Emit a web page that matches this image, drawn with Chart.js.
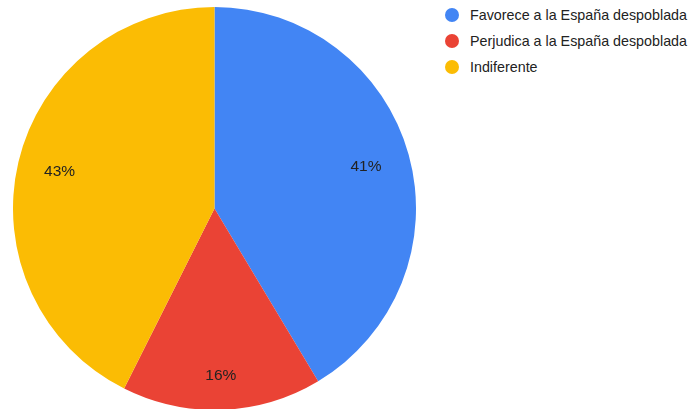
<!DOCTYPE html>
<html>
<head>
<meta charset="utf-8">
<script src="https://cdn.jsdelivr.net/npm/chart.js@4/dist/chart.umd.min.js"></script>
<style>
    html, body { margin: 0; padding: 0; background: #ffffff; overflow: hidden; }
    body { width: 691px; height: 409px; position: relative; font-family: Arial, "Liberation Sans", sans-serif; }
    #pieBox { position: absolute; left: 13px; top: 7px; width: 403px; height: 403px; }
    #legend { position: absolute; left: 445px; top: 5px; }
    .item { position: relative; height: 26px; line-height: 20px; font-size: 14.3px; color: #222222; padding-left: 25px; white-space: nowrap; }
    .dot { position: absolute; left: 0; top: 3px; width: 14px; height: 14px; border-radius: 50%; }
</style>
</head>
<body>
<div id="pieBox"><canvas id="pieChart"></canvas></div>
<div id="legend"></div>
<script>
const labels = ['Favorece a la España despoblada', 'Perjudica a la España despoblada', 'Indiferente'];
const values = [41.4, 16.0, 42.6];
const colors = ['#4285f4', '#ea4335', '#fbbc04'];

// percentage text inside each slice
const sliceLabels = {
    id: 'sliceLabels',
    afterDatasetsDraw(chart) {
        const ctx = chart.ctx;
        const meta = chart.getDatasetMeta(0);
        const total = values.reduce((a, b) => a + b, 0);
        const ratios = [0.78, 0.83, 0.79]; // how far out the label sits
        ctx.save();
        ctx.font = '15.5px Arial, "Liberation Sans", sans-serif';
        ctx.fillStyle = '#222222';
        ctx.textAlign = 'center';
        ctx.textBaseline = 'middle';
        meta.data.forEach((arc, i) => {
            const p = arc.getProps(['x', 'y', 'startAngle', 'endAngle', 'outerRadius'], true);
            const mid = (p.startAngle + p.endAngle) / 2;
            const r = p.outerRadius * ratios[i];
            const pct = Math.round(values[i] / total * 100) + '%';
            ctx.fillText(pct, p.x + Math.cos(mid) * r, p.y + Math.sin(mid) * r);
        });
        ctx.restore();
    }
};

new Chart(document.getElementById('pieChart'), {
    type: 'pie',
    data: {
        labels: labels,
        datasets: [{
            data: values,
            backgroundColor: colors,
            borderWidth: 0
        }]
    },
    options: {
        responsive: true,
        maintainAspectRatio: false,
        animation: false,
        layout: { padding: 0 },
        plugins: {
            legend: { display: false },
            tooltip: { enabled: false }
        }
    },
    plugins: [sliceLabels]
});

// html legend
const legendEl = document.getElementById('legend');
labels.forEach((label, i) => {
    const item = document.createElement('div');
    item.className = 'item';
    const dot = document.createElement('span');
    dot.className = 'dot';
    dot.style.background = colors[i];
    item.appendChild(dot);
    item.appendChild(document.createTextNode(label));
    legendEl.appendChild(item);
});
</script>
</body>
</html>
